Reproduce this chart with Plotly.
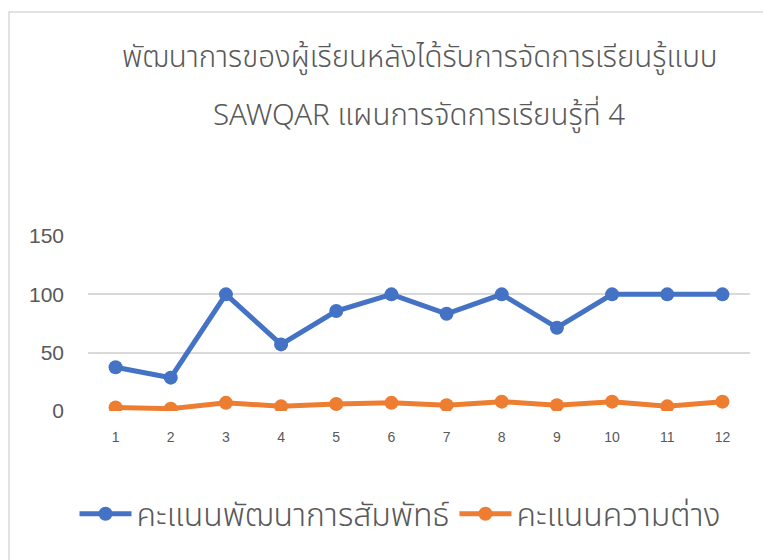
import plotly.graph_objects as go

categories = ["1", "2", "3", "4", "5", "6", "7", "8", "9", "10", "11", "12"]
relative_dev = [37.5, 28.6, 100, 57.1, 85.7, 100, 83.3, 100, 71.4, 100, 100, 100]
diff_score = [3, 2, 7, 4, 6, 7, 5, 8, 5, 8, 4, 8]
series_names = ["คะแนนพัฒนาการสัมพัทธ์", "คะแนนความต่าง"]
title_lines = ["พัฒนาการของผู้เรียนหลังได้รับการจัดการเรียนรู้แบบ", "SAWQAR แผนการจัดการเรียนรู้ที่ 4"]
y_ticks = [0, 50, 100, 150]

W, H = 771, 560
OFF = 8  # page body offset
L, T = 88 - OFF, 236 - OFF
R = W - (750 - OFF)
B = H - (411 - OFF)
pw, ph = W - L - R, H - T - B
FONT = "Noto Sans Thai, Noto Sans, sans-serif"

def px_x(x):
    return (x - OFF - L) / pw

def px_y(y):
    return (H - B - (y - OFF)) / ph

fig = go.Figure()
fig.add_trace(go.Scatter(x=categories, y=relative_dev, mode="lines+markers", name=series_names[0],
                         line=dict(color="#4472C4", width=5), marker=dict(size=14, color="#4472C4")))
fig.add_trace(go.Scatter(x=categories, y=diff_score, mode="lines+markers", name=series_names[1],
                         line=dict(color="#ED7D31", width=5), marker=dict(size=14, color="#ED7D31")))

fig.update_layout(
    width=W, height=H,
    margin=dict(l=L, r=R, t=T, b=B, autoexpand=False),
    paper_bgcolor="white", plot_bgcolor="white",
    font=dict(family=FONT, color="#595959"),
    xaxis=dict(type="category", range=[-0.5, 11.5], showgrid=False, showline=False, ticks="",
               tickfont=dict(size=14, color="#595959", family="Liberation Sans, Arial, sans-serif"), ticklabelstandoff=16),
    yaxis=dict(range=[0, 150], tickvals=y_ticks, showgrid=True, gridcolor="#D9D9D9", gridwidth=1.5,
               zeroline=False, showline=False, ticks="",
               tickfont=dict(size=21, color="#595959", family="Liberation Sans, Arial, sans-serif"), ticklabelstandoff=23),
    legend=dict(orientation="h", x=px_x(400), xanchor="center", y=px_y(514), yanchor="middle",
                font=dict(size=32, color="#595959", family=FONT, weight=300), itemwidth=52, tracegroupgap=0),
    showlegend=True,
)
for line, ypx in zip(title_lines, [58, 116]):
    fig.add_annotation(text=line, xref="paper", yref="paper", x=px_x(419), y=px_y(ypx),
                       xanchor="center", yanchor="middle", showarrow=False,
                       font=dict(size=29.5, color="#595959", family=FONT, weight=300))
fig.add_shape(type="rect", xref="paper", yref="paper", x0=px_x(9), x1=px_x(800), y0=px_y(590), y1=px_y(12),
              line=dict(color="#D9D9D9", width=1.5), fillcolor="rgba(0,0,0,0)", layer="below")

fig.write_html("out.html")
